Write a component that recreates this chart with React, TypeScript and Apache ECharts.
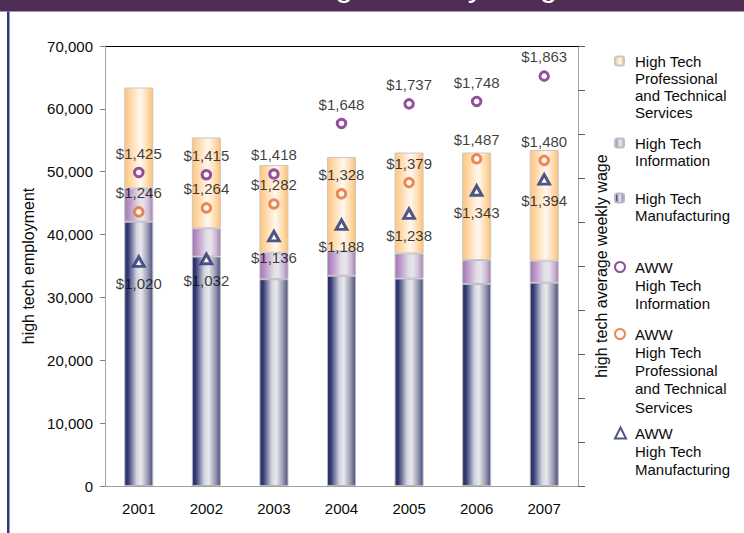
import React, { useEffect, useRef } from "react";
import * as echarts from "echarts";

const years = ["2001", "2002", "2003", "2004", "2005", "2006", "2007"];
const manufacturing = [42050, 36500, 32900, 33450, 33000, 32150, 32350];
const information = [5300, 4500, 4200, 3900, 4000, 3800, 3500];
const professional = [16050, 14450, 13950, 15000, 16050, 17100, 17600];
const awwInformation = [1425, 1415, 1418, 1648, 1737, 1748, 1863];
const awwProfessional = [1246, 1264, 1282, 1328, 1379, 1487, 1480];
const awwManufacturing = [1020, 1032, 1136, 1188, 1238, 1343, 1394];
const leftTicks = { min: 0, max: 70000, interval: 10000 };
const rightTicks = { min: 0, max: 2000, interval: 200 };

const FONT = "'Liberation Sans', Arial, sans-serif";
const PURPLE = "#772487";
const ORANGE = "#E86A2A";
const NAVY = "#222D6C";
const TXT = "#0a0a0a";

const grad = (stops: [number, string][]) =>
  new echarts.graphic.LinearGradient(
    0, 0, 1, 0,
    stops.map(([offset, color]) => ({ offset, color }))
  );

const money = (v: number) => "$" + v.toLocaleString("en-US");

function legendFor(name: string, lh: number, cy: number, iconW: number, padLeft: number) {
  const lines = name.split("\n").length;
  const top = cy - ((2 * lines - 1) * lh) / 2;
  return {
    data: [name],
    orient: "vertical",
    left: 614,
    top,
    padding: 0,
    itemWidth: iconW,
    itemHeight: iconW,
    selectedMode: false,
    formatter: (n: string) => "\n".repeat(lines - 1) + n,
    textStyle: {
      fontFamily: FONT,
      fontSize: 15,
      color: TXT,
      lineHeight: lh,
      padding: [0, 0, 0, padLeft],
    },
  };
}

export default function App() {
  const ref = useRef<HTMLDivElement>(null);
  useEffect(() => {
    if (!ref.current) return;
    const chart = echarts.init(ref.current, null, { renderer: "svg" });
    const nProf = "High Tech\nProfessional\nand Technical\nServices";
    const nInfo = "High Tech\nInformation";
    const nManu = "High Tech\nManufacturing";
    const nAwwInfo = "AWW\nHigh Tech\nInformation";
    const nAwwProf = "AWW\nHigh Tech\nProfessional\nand Technical\nServices";
    const nAwwManu = "AWW\nHigh Tech\nManufacturing";

    const barBase = {
      type: "bar",
      stack: "emp",
      barWidth: 29,
      yAxisIndex: 0,
    };
    const labelBase = { show: true, fontSize: 15, color: TXT, fontFamily: FONT, formatter: (p: any) => money(p.value) };

    chart.setOption({
      animation: false,
      backgroundColor: "#ffffff",
      textStyle: { fontFamily: FONT },
      grid: { left: 105, right: 166, top: 46, bottom: 47 },
      graphic: [
        { type: "rect", shape: { x: 0, y: 0, width: 744, height: 11.5 }, style: { fill: "#502D56" }, silent: true },
        { type: "rect", shape: { x: 7, y: 11.5, width: 2.5, height: 522 }, style: { fill: "#2D3A7C" }, silent: true },
        {
          type: "text",
          x: 252,
          y: -15.5,
          style: { text: "Average Weekly Wage", fill: "#ffffff", font: "32px " + FONT, verticalAlign: "middle" },
          silent: true,
        },
        { type: "line", shape: { x1: 100, y1: 46.5, x2: 578, y2: 46.5 }, style: { stroke: "#000", lineWidth: 1 }, silent: true },
      ],
      legend: [
        legendFor(nProf, 17, 61, 9, 6),
        legendFor(nInfo, 17, 143, 9, 6),
        legendFor(nManu, 17, 198, 9, 6),
        legendFor(nAwwInfo, 18.3, 267, 10, 5),
        legendFor(nAwwProf, 18.3, 334, 10, 5),
        legendFor(nAwwManu, 18.3, 433, 11, 4),
      ],
      xAxis: {
        type: "category",
        data: years,
        axisLine: { lineStyle: { color: "#A0A0A0" } },
        axisTick: { length: 6, lineStyle: { color: "#808080" } },
        axisLabel: { fontSize: 15, color: TXT, margin: 15, fontFamily: FONT },
      },
      yAxis: [
        {
          type: "value",
          ...leftTicks,
          name: "high tech employment",
          nameLocation: "middle",
          nameGap: 59,
          nameRotate: 90,
          nameTextStyle: { fontSize: 16, color: TXT, fontFamily: FONT },
          axisLine: { show: true, lineStyle: { color: "#A0A0A0" } },
          axisTick: { show: true, length: 5, lineStyle: { color: "#808080" } },
          axisLabel: {
            fontSize: 15,
            color: TXT,
            margin: 12,
            fontFamily: FONT,
            formatter: (v: number) => v.toLocaleString("en-US"),
          },
          splitLine: { show: false },
        },
        {
          type: "value",
          ...rightTicks,
          position: "right",
          name: "high tech average weekly wage",
          nameLocation: "middle",
          nameGap: 15,
          nameRotate: 90,
          nameTextStyle: { fontSize: 16, color: TXT, fontFamily: FONT },
          axisLine: { show: true, lineStyle: { color: "#A0A0A0" } },
          axisTick: { show: true, length: 7, lineStyle: { color: "#606060" } },
          axisLabel: { show: false },
          splitLine: { show: false },
        },
      ],
      series: [
        {
          ...barBase,
          name: nManu,
          data: manufacturing,
          itemStyle: {
            color: grad([[0, "#272E68"], [0.12, "#343B74"], [0.42, "#D2D2DE"], [0.58, "#E9E9EE"], [0.82, "#9A9AB2"], [1, "#4A4F80"]]),
            borderColor: "#B8B8C0",
            borderWidth: 1,
          },
        },
        {
          ...barBase,
          name: nInfo,
          data: information,
          itemStyle: {
            color: grad([[0, "#A476B6"], [0.15, "#B890C6"], [0.5, "#E3DEE8"], [0.65, "#E6E6EA"], [0.85, "#CDB8D5"], [1, "#A57EB4"]]),
            borderColor: "#BDBDBD",
            borderWidth: 1,
          },
        },
        {
          ...barBase,
          name: nProf,
          data: professional,
          itemStyle: {
            color: grad([[0, "#FFC47C"], [0.2, "#FFD7A6"], [0.55, "#FFF8F0"], [0.8, "#FFDDB2"], [1, "#FFC070"]]),
            borderColor: "#C8C8C8",
            borderWidth: 1,
          },
        },
        {
          type: "scatter",
          name: nAwwInfo,
          yAxisIndex: 1,
          data: awwInformation,
          symbol: "circle",
          symbolSize: 8.5,
          z: 5,
          itemStyle: { color: "#ffffff", borderColor: PURPLE, borderWidth: 3 },
          label: { ...labelBase, position: "top", distance: 6 },
        },
        {
          type: "scatter",
          name: nAwwProf,
          yAxisIndex: 1,
          data: awwProfessional,
          symbol: "circle",
          symbolSize: 8.5,
          z: 5,
          itemStyle: { color: "#ffffff", borderColor: ORANGE, borderWidth: 3 },
          label: { ...labelBase, position: "top", distance: 6 },
        },
        {
          type: "scatter",
          name: nAwwManu,
          yAxisIndex: 1,
          data: awwManufacturing,
          symbol: "triangle",
          symbolSize: [10.5, 9.5],
          z: 5,
          itemStyle: { color: "#ffffff", borderColor: NAVY, borderWidth: 3 },
          label: { ...labelBase, position: "bottom", distance: 8 },
        },
      ],
    });
    return () => chart.dispose();
  }, []);
  return (
    <div
      ref={ref}
      style={{ position: "fixed", left: 0, top: 0, width: 744, height: 533, background: "#fff" }}
    />
  );
}
